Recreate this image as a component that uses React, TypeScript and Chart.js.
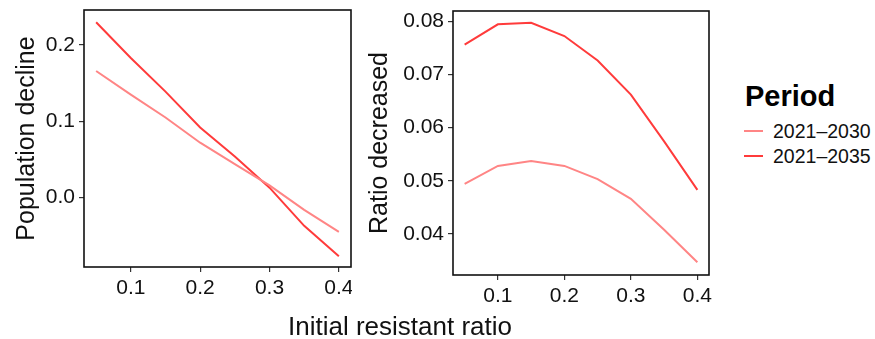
import React, { useEffect, useRef } from "react";
import { Chart, registerables } from "chart.js";

Chart.register(...registerables);

const xValues = [0.05, 0.1, 0.15, 0.2, 0.25, 0.3, 0.35, 0.4];
const xTicks = [0.1, 0.2, 0.3, 0.4];
const periods = ["2021–2030", "2021–2035"];
const colors = ["#FF8585", "#FF3B3B"];

const declineShort = [0.166, 0.135, 0.105, 0.072, 0.044, 0.016, -0.016, -0.045];
const declineLong = [0.23, 0.183, 0.139, 0.092, 0.054, 0.013, -0.037, -0.077];
const declineTicks = [0.0, 0.1, 0.2];

const ratioShort = [0.0494, 0.0528, 0.0537, 0.0528, 0.0503, 0.0466, 0.0408, 0.0347];
const ratioLong = [0.0756, 0.0794, 0.0797, 0.0772, 0.0726, 0.0662, 0.0574, 0.0483];
const ratioTicks = [0.04, 0.05, 0.06, 0.07, 0.08];

const FONT = "'Liberation Sans', Arial, sans-serif";

const boxPlugin = {
  id: "box",
  afterDraw(chart: any) {
    const { ctx, chartArea } = chart;
    ctx.save();
    ctx.strokeStyle = "#111";
    ctx.lineWidth = 1.6;
    ctx.strokeRect(chartArea.left, chartArea.top, chartArea.right - chartArea.left, chartArea.bottom - chartArea.top);
    ctx.restore();
  },
};

function makeConfig(
  series: number[][],
  yMin: number,
  yMax: number,
  yTicks: number[],
  yTitle: string,
  yWidth: number,
  xHeight: number,
  padTop: number,
  padRight: number,
  titlePad: number,
  decimals: number
): any {
  return {
    type: "line",
    data: {
      datasets: series.map((s, i) => ({
        label: periods[i],
        data: s.map((v, j) => ({ x: xValues[j], y: v })),
        borderColor: colors[i],
        borderWidth: 2,
        pointRadius: 0,
        tension: 0,
        fill: false,
      })),
    },
    plugins: [boxPlugin],
    options: {
      animation: false,
      responsive: false,
      maintainAspectRatio: false,
      layout: { padding: { top: padTop, right: padRight, left: 0, bottom: 0 } },
      plugins: { legend: { display: false }, tooltip: { enabled: false } },
      scales: {
        x: {
          type: "linear",
          min: 0.0325,
          max: 0.4175,
          afterFit(scale: any) {
            scale.height = xHeight;
            scale.paddingLeft = 0;
            scale.paddingRight = 0;
          },
          afterBuildTicks(scale: any) {
            scale.ticks = xTicks.map((v) => ({ value: v }));
          },
          grid: { display: true, drawOnChartArea: false, drawTicks: true, tickLength: 5, color: "#333", lineWidth: 1.2 },
          border: { display: false },
          ticks: {
            color: "#111",
            padding: 4,
            maxRotation: 0,
            font: { family: FONT, size: 21 },
            callback: (v: number) => v.toFixed(1),
          },
        },
        y: {
          type: "linear",
          min: yMin,
          max: yMax,
          afterFit(scale: any) {
            scale.width = yWidth;
            scale.paddingTop = 0;
            scale.paddingBottom = 0;
          },
          afterBuildTicks(scale: any) {
            scale.ticks = yTicks.map((v) => ({ value: v }));
          },
          grid: { display: true, drawOnChartArea: false, drawTicks: true, tickLength: 5, color: "#333", lineWidth: 1.2 },
          border: { display: false },
          ticks: {
            color: "#111",
            padding: 4,
            font: { family: FONT, size: 21 },
            callback: (v: number) => v.toFixed(decimals),
          },
          title: {
            display: true,
            text: yTitle,
            color: "#111",
            font: { family: FONT, size: 25 },
            padding: { top: titlePad, bottom: 0 },
          },
        },
      },
    },
  };
}

export default function App() {
  const leftRef = useRef<HTMLCanvasElement>(null);
  const rightRef = useRef<HTMLCanvasElement>(null);

  useEffect(() => {
    document.body.style.margin = "0";
    const c1 = new Chart(
      leftRef.current as HTMLCanvasElement,
      makeConfig([declineShort, declineLong], -0.091, 0.246, declineTicks, "Population decline", 84, 72, 10, 1, 12, 1)
    );
    const c2 = new Chart(
      rightRef.current as HTMLCanvasElement,
      makeConfig([ratioShort, ratioLong], 0.0323, 0.0819, ratioTicks, "Ratio decreased", 93, 64, 11, 3, 5, 2)
    );
    return () => {
      c1.destroy();
      c2.destroy();
    };
  }, []);

  return (
    <div style={{ position: "relative", width: 875, height: 339, background: "#fff", fontFamily: FONT, overflow: "hidden" }}>
      <canvas ref={leftRef} width={352} height={339} style={{ position: "absolute", left: 0, top: 0, width: 352, height: 339 }} />
      <canvas ref={rightRef} width={352} height={339} style={{ position: "absolute", left: 360, top: 0, width: 352, height: 339 }} />
      <div style={{ position: "absolute", left: 0, width: 800, top: 311, textAlign: "center", fontSize: 26, color: "#111", lineHeight: "30px" }}>
        Initial resistant ratio
      </div>
      <div style={{ position: "absolute", left: 745, top: 80, fontSize: 29, fontWeight: "bold", color: "#000", lineHeight: "32px" }}>
        Period
      </div>
      {periods.map((p, i) => (
        <div key={p} style={{ position: "absolute", left: 744, top: 119 + i * 25, height: 24, display: "flex", alignItems: "center" }}>
          <div style={{ width: 19, height: 2, background: colors[i] }} />
          <div style={{ marginLeft: 10, fontSize: 19.5, color: "#111", lineHeight: "24px" }}>{p}</div>
        </div>
      ))}
    </div>
  );
}
